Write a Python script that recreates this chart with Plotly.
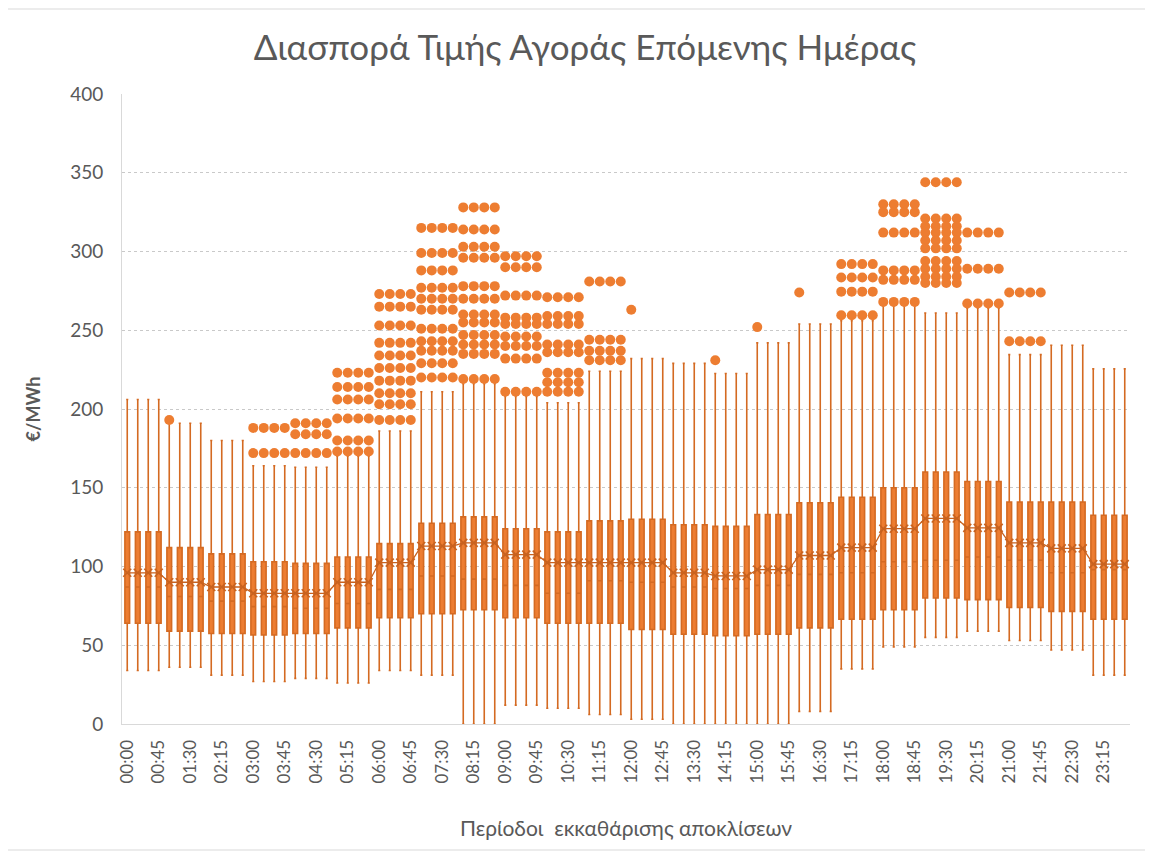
import plotly.graph_objects as go

# ---------------- data ----------------
categories = [
    "00:00", "00:15", "00:30", "00:45", "01:00", "01:15", "01:30", "01:45",
    "02:00", "02:15", "02:30", "02:45", "03:00", "03:15", "03:30", "03:45",
    "04:00", "04:15", "04:30", "04:45", "05:00", "05:15", "05:30", "05:45",
    "06:00", "06:15", "06:30", "06:45", "07:00", "07:15", "07:30", "07:45",
    "08:00", "08:15", "08:30", "08:45", "09:00", "09:15", "09:30", "09:45",
    "10:00", "10:15", "10:30", "10:45", "11:00", "11:15", "11:30", "11:45",
    "12:00", "12:15", "12:30", "12:45", "13:00", "13:15", "13:30", "13:45",
    "14:00", "14:15", "14:30", "14:45", "15:00", "15:15", "15:30", "15:45",
    "16:00", "16:15", "16:30", "16:45", "17:00", "17:15", "17:30", "17:45",
    "18:00", "18:15", "18:30", "18:45", "19:00", "19:15", "19:30", "19:45",
    "20:00", "20:15", "20:30", "20:45", "21:00", "21:15", "21:30", "21:45",
    "22:00", "22:15", "22:30", "22:45", "23:00", "23:15", "23:30", "23:45",
]

tick_labels = [
    "00:00", "00:45", "01:30", "02:15", "03:00", "03:45", "04:30", "05:15",
    "06:00", "06:45", "07:30", "08:15", "09:00", "09:45", "10:30", "11:15",
    "12:00", "12:45", "13:30", "14:15", "15:00", "15:45", "16:30", "17:15",
    "18:00", "18:45", "19:30", "20:15", "21:00", "21:45", "22:30", "23:15",
]

lower_whisker = [
    34, 34, 34, 34,  36, 36, 36, 36,  31, 31, 31, 31,  27, 27, 27, 27,
    29, 29, 29, 29,  26, 26, 26, 26,  34, 34, 34, 34,  31, 31, 31, 31,
    0, 0, 0, 0,      12, 12, 12, 12,  10, 10, 10, 10,  6, 6, 6, 6,
    3, 3, 3, 3,      0, 0, 0, 0,      0, 0, 0, 0,      0, 0, 0, 0,
    8, 8, 8, 8,      35, 35, 35, 35,  49, 49, 49, 49,  55, 55, 55, 55,
    59, 59, 59, 59,  53, 53, 53, 53,  47, 47, 47, 47,  31, 31, 31, 31,
]

q1 = [
    64, 64, 64, 64,  59, 59, 59, 59,  57.5, 57.5, 57.5, 57.5,  56.5, 56.5, 56.5, 56.5,
    57.5, 57.5, 57.5, 57.5,  61, 61, 61, 61,  67.5, 67.5, 67.5, 67.5,  70, 70, 70, 70,
    72.5, 72.5, 72.5, 72.5,  67.5, 67.5, 67.5, 67.5,  64, 64, 64, 64,  64, 64, 64, 64,
    60, 60, 60, 60,  57, 57, 57, 57,  56, 56, 56, 56,  57, 57, 57, 57,
    61, 61, 61, 61,  66.5, 66.5, 66.5, 66.5,  72.5, 72.5, 72.5, 72.5,  80, 80, 80, 80,
    79, 79, 79, 79,  74, 74, 74, 74,  71.5, 71.5, 71.5, 71.5,  66.5, 66.5, 66.5, 66.5,
]

median = [
    87, 87, 87, 87,  81, 81, 81, 81,  78, 78, 78, 78,  74.5, 74.5, 74.5, 74.5,
    73.5, 73.5, 73.5, 73.5,  76.5, 76.5, 76.5, 76.5,  85.5, 85.5, 85.5, 85.5,  94, 94, 94, 94,
    92, 92, 92, 92,  88, 88, 88, 88,  83, 83, 83, 83,  91, 91, 91, 91,
    90, 90, 90, 90,  87, 87, 87, 87,  86, 86, 86, 86,  88, 88, 88, 88,
    95, 95, 95, 95,  96, 96, 96, 96,  103, 103, 103, 103,  104, 104, 104, 104,
    106, 106, 106, 106,  104, 104, 104, 104,  96, 96, 96, 96,  98, 98, 98, 98,
]

mean = [
    96, 96, 96, 96,  90, 90, 90, 90,  87, 87, 87, 87,  83, 83, 83, 83,
    83, 83, 83, 83,  90, 90, 90, 90,  102.5, 102.5, 102.5, 102.5,  113, 113, 113, 113,
    115, 115, 115, 115,  107.5, 107.5, 107.5, 107.5,  102.5, 102.5, 102.5, 102.5,  102.5, 102.5, 102.5, 102.5,
    102.5, 102.5, 102.5, 102.5,  96, 96, 96, 96,  94, 94, 94, 94,  98, 98, 98, 98,
    107, 107, 107, 107,  112, 112, 112, 112,  124, 124, 124, 124,  130.5, 130.5, 130.5, 130.5,
    124.5, 124.5, 124.5, 124.5,  115, 115, 115, 115,  111.5, 111.5, 111.5, 111.5,  101.5, 101.5, 101.5, 101.5,
]

q3 = [
    122, 122, 122, 122,  112, 112, 112, 112,  108, 108, 108, 108,  103, 103, 103, 103,
    102, 102, 102, 102,  106, 106, 106, 106,  114.5, 114.5, 114.5, 114.5,  127.5, 127.5, 127.5, 127.5,
    131.5, 131.5, 131.5, 131.5,  124, 124, 124, 124,  122, 122, 122, 122,  129, 129, 129, 129,
    130, 130, 130, 130,  126.5, 126.5, 126.5, 126.5,  125.5, 125.5, 125.5, 125.5,  133, 133, 133, 133,
    140.5, 140.5, 140.5, 140.5,  144, 144, 144, 144,  150, 150, 150, 150,  160, 160, 160, 160,
    154, 154, 154, 154,  141, 141, 141, 141,  141, 141, 141, 141,  132.5, 132.5, 132.5, 132.5,
]

upper_whisker = [
    206, 206, 206, 206,  191, 191, 191, 191,  180, 180, 180, 180,  164, 164, 164, 164,
    163, 163, 163, 163,  170, 170, 170, 170,  186, 186, 186, 186,  211, 211, 211, 211,
    216, 216, 216, 216,  208, 208, 208, 208,  204, 204, 204, 204,  224, 224, 224, 224,
    232, 232, 232, 232,  229, 229, 229, 229,  222.5, 222.5, 222.5, 222.5,  242, 242, 242, 242,
    254, 254, 254, 254,  256, 256, 256, 256,  265.5, 265.5, 265.5, 265.5,  261, 261, 261, 261,
    264, 264, 264, 264,  234.5, 234.5, 234.5, 234.5,  240.5, 240.5, 240.5, 240.5,  225.5, 225.5, 225.5, 225.5,
]

h03 = [188, 172]
h04 = [191, 184, 172]
h05 = [223, 214, 206, 194, 180, 173]
h06 = [273, 265, 253, 242, 234, 226, 218, 210, 203, 193]
h07 = [315, 299, 288, 277, 270, 263, 251, 243, 237, 229, 220]
h08 = [328, 314, 303, 296, 278, 270, 260, 255, 247, 241, 235, 219]
h09 = [297, 290, 272, 258, 254, 246, 240, 232, 211]
h10 = [271, 259, 254, 241, 236, 223, 217, 211]
h11 = [281, 244, 237, 231]
h17 = [292, 283.5, 274.5, 259.5]
h18 = [330, 325, 312, 288, 282, 268]
h19 = [344, 321, 316, 312, 307, 302, 294, 289, 284, 280]
h20 = [312, 289, 267]
h21 = [274, 243]

outliers = [
    [], [], [], [],
    [193], [], [], [],
    [], [], [], [],
    h03, h03, h03, h03,
    h04, h04, h04, h04,
    h05, h05, h05, h05,
    h06, h06, h06, h06,
    h07, h07, h07, h07,
    h08, h08, h08, h08,
    h09, h09, h09, h09,
    h10, h10, h10, h10,
    h11, h11, h11, h11,
    [263], [], [], [],
    [], [], [], [],
    [231], [], [], [],
    [252], [], [], [],
    [274], [], [], [],
    h17, h17, h17, h17,
    h18, h18, h18, h18,
    h19, h19, h19, h19,
    h20, h20, h20, h20,
    h21, h21, h21, h21,
    [], [], [], [],
    [], [], [], [],
]

# ---------------- figure ----------------
ORANGE = "#ED7D31"
DARK = "#D46A22"
GRAY = "#595959"
FONT = "Lato"

out_x, out_y = [], []
for cat, vals in zip(categories, outliers):
    for v in vals:
        out_x.append(cat)
        out_y.append(v)

fig = go.Figure()

fig.add_trace(go.Box(
    x=categories,
    q1=q1, median=median, q3=q3,
    lowerfence=lower_whisker, upperfence=upper_whisker,
    boxpoints=False,
    fillcolor=ORANGE,
    line=dict(color=DARK, width=1.6),
    whiskerwidth=0.45,
    showlegend=False,
    hoverinfo="skip",
))

fig.add_trace(go.Scatter(
    x=out_x, y=out_y, mode="markers",
    marker=dict(color=ORANGE, size=10, line=dict(width=0)),
    showlegend=False, hoverinfo="skip",
))

fig.add_trace(go.Scatter(
    x=categories, y=mean, mode="lines+markers",
    line=dict(color="#C8621F", width=1.3),
    marker=dict(symbol="x-thin-open", size=8, line=dict(color="#C8621F", width=1.6)),
    showlegend=False, hoverinfo="skip",
))

# page body has an 8px margin, so the figure is drawn 8px right/down
W, H = 1145, 846
L, T = 114, 86
R = W - 1122
B = H - 716
pw, ph = W - L - R, H - T - B

fig.update_layout(
    width=W, height=H,
    margin=dict(l=L, r=R, t=T, b=B),
    paper_bgcolor="white", plot_bgcolor="white",
    boxgap=0.36,
    font=dict(family=FONT, color=GRAY),
    title=dict(
        text="Διασπορά Τιμής Αγοράς Επόμενης Ημέρας",
        x=0.504, xanchor="center", y=1 - 40 / H, yanchor="middle",
        font=dict(family=FONT, size=35, color=GRAY),
    ),
    xaxis=dict(
        type="category",
        categoryorder="array", categoryarray=categories,
        tickmode="array", tickvals=tick_labels, ticktext=tick_labels,
        tickangle=-90,
        tickfont=dict(family=FONT, size=17, color=GRAY),
        ticks="outside", ticklen=8, tickcolor="rgba(0,0,0,0)",
        showgrid=False,
        showline=True, linecolor="#D9D9D9", linewidth=1,
        title=dict(text="Περίοδοι  εκκαθάρισης αποκλίσεων",
                   font=dict(family=FONT, size=21, color=GRAY), standoff=38),
        range=[-0.5, 95.5],
    ),
    yaxis=dict(
        range=[0, 400], dtick=50,
        tickfont=dict(family=FONT, size=19, color=GRAY),
        ticks="outside", ticklen=14, tickcolor="rgba(0,0,0,0)",
        showgrid=True, gridcolor="#C9C9C9", griddash="dot", gridwidth=1,
        zeroline=False,
        showline=True, linecolor="#D9D9D9", linewidth=1,
        title=dict(text="<b>€/MWh</b>", font=dict(family=FONT, size=18, color=GRAY), standoff=24),
    ),
    shapes=[dict(
        type="rect", xref="paper", yref="paper",
        x0=(-4 - L) / pw, x1=(1142 - L) / pw,
        y0=(H - B - 842) / ph, y1=(H - B - 1) / ph,
        line=dict(color="#D9D9D9", width=1), fillcolor="rgba(0,0,0,0)", layer="below",
    )],
)

fig.write_html("out.html")
